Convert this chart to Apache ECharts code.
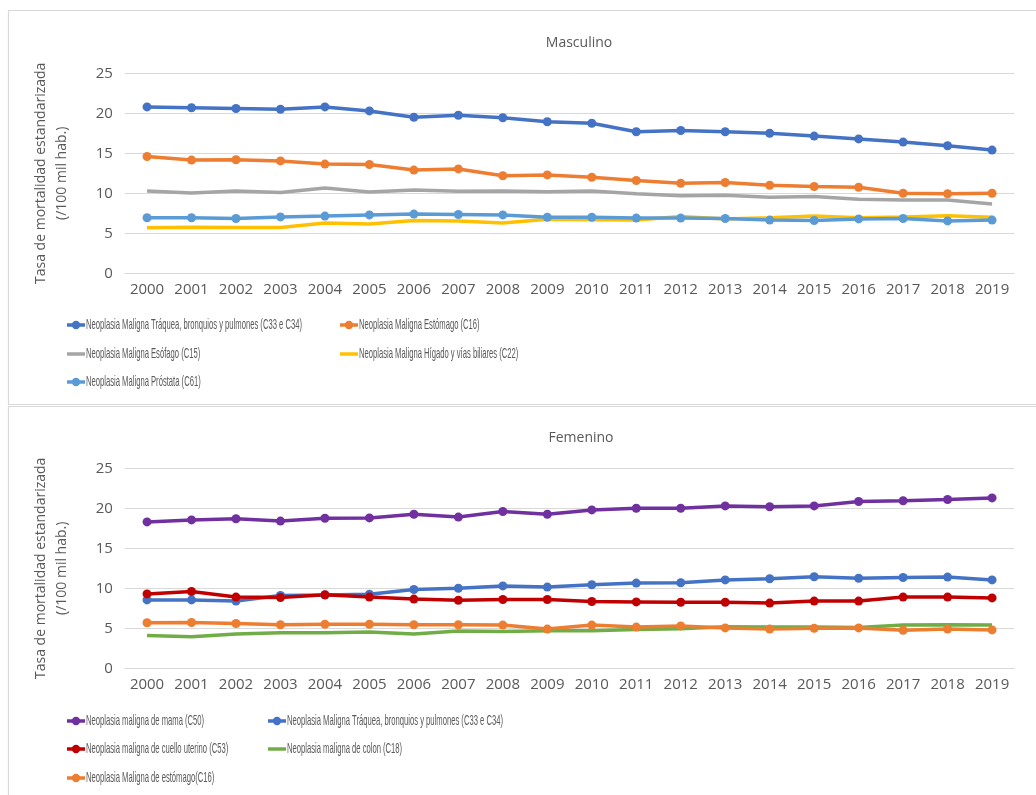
<!DOCTYPE html>
<html>
<head>
<meta charset="utf-8">
<script src="https://cdn.jsdelivr.net/npm/echarts@6/dist/echarts.min.js"></script>
<style>
  html, body { margin: 0; padding: 0; background: #fff; }
  #chart { width: 1036px; height: 795px; }
</style>
</head>
<body>
<div id="chart"></div>
<script>
// Years on the category axis
const years = ['2000','2001','2002','2003','2004','2005','2006','2007','2008','2009',
               '2010','2011','2012','2013','2014','2015','2016','2017','2018','2019'];
const yTicks = { min: 0, max: 25, step: 5 };

// Masculino: standardised mortality rate per 100k
const mTraquea   = [20.8,20.7,20.6,20.5,20.8,20.3,19.5,19.75,19.45,18.95,18.75,17.7,17.85,17.7,17.5,17.15,16.8,16.4,15.95,15.4];
const mEstomago  = [14.6,14.15,14.2,14.05,13.65,13.6,12.9,13.05,12.2,12.3,12.0,11.6,11.25,11.35,11.0,10.85,10.75,10.0,9.95,10.0];
const mEsofago   = [10.3,10.05,10.3,10.1,10.65,10.15,10.4,10.25,10.3,10.2,10.3,9.95,9.7,9.75,9.5,9.6,9.25,9.15,9.15,8.65];
const mHigado    = [5.7,5.75,5.72,5.72,6.3,6.15,6.6,6.55,6.3,6.75,6.7,6.65,7.1,6.8,6.95,7.15,6.95,7.05,7.2,7.0];
const mProstata  = [6.95,6.95,6.85,7.05,7.15,7.3,7.4,7.35,7.3,7.0,7.0,6.9,6.9,6.85,6.65,6.6,6.8,6.85,6.55,6.65];

// Femenino
const fMama      = [18.3,18.55,18.7,18.4,18.75,18.8,19.25,18.9,19.6,19.25,19.8,20.0,20.0,20.3,20.2,20.3,20.85,20.95,21.1,21.3];
const fTraquea   = [8.55,8.55,8.4,9.1,9.15,9.25,9.85,10.0,10.3,10.15,10.45,10.65,10.7,11.05,11.2,11.45,11.25,11.35,11.4,11.05];
const fCuello    = [9.3,9.6,8.9,8.85,9.2,8.9,8.65,8.5,8.6,8.6,8.35,8.3,8.25,8.25,8.15,8.4,8.4,8.9,8.9,8.8];
const fColon     = [4.1,3.95,4.3,4.45,4.45,4.55,4.3,4.65,4.6,4.7,4.7,4.85,4.95,5.2,5.15,5.15,5.1,5.4,5.45,5.4];
const fEstomago  = [5.7,5.72,5.6,5.45,5.5,5.5,5.45,5.45,5.4,4.9,5.4,5.15,5.3,5.05,4.9,5.0,5.05,4.75,4.9,4.8];

const maleSeries = [
  { name: 'Neoplasia Maligna Tráquea, bronquios y pulmones (C33 e C34)', data: mTraquea,  color: '#4472C4', marker: true },
  { name: 'Neoplasia Maligna Estómago (C16)',                            data: mEstomago, color: '#ED7D31', marker: true },
  { name: 'Neoplasia Maligna Esófago (C15)',                             data: mEsofago,  color: '#A5A5A5', marker: false },
  { name: 'Neoplasia Maligna Hígado y vías biliares (C22)',              data: mHigado,   color: '#FFC000', marker: false },
  { name: 'Neoplasia Maligna Próstata (C61)',                            data: mProstata, color: '#5B9BD5', marker: true }
];
const femaleSeries = [
  { name: 'Neoplasia maligna de mama (C50)',                             data: fMama,     color: '#7030A0', marker: true },
  { name: 'Neoplasia Maligna Tráquea, bronquios y pulmones (C33 e C34)', data: fTraquea,  color: '#4472C4', marker: true },
  { name: 'Neoplasia maligna de cuello uterino (C53)',                   data: fCuello,   color: '#C00000', marker: true },
  { name: 'Neoplasia maligna de colon (C18)',                            data: fColon,    color: '#70AD47', marker: false },
  { name: 'Neoplasia Maligna de estómago(C16)',                          data: fEstomago, color: '#ED7D31', marker: true }
];

const TEXT = '#595959';
const GRID_LINE = '#d9d9d9';
const AXIS_FONT = 'Open Sans';
const LEGEND_FONT = 'Liberation Sans';
const LEGEND_SIZE = 15;

// Condensed legend lettering: squeeze the sans face to the legend's tighter set width
function legendScale() {
  const ctx = document.createElement('canvas').getContext('2d');
  ctx.font = LEGEND_SIZE + 'px "' + LEGEND_FONT + '"';
  const w = ctx.measureText(maleSeries[0].name).width;
  return w > 0 ? 216 / w : 1;
}
const LS = legendScale();

const chart = echarts.init(document.getElementById('chart'), null, { renderer: 'canvas' });

const grids = [
  { left: 124.8, right: 21.7, top: 73.3, height: 200 },
  { left: 124.8, right: 21.7, top: 468.3, height: 200 }
];

function xAxisFor(gi) {
  return {
    type: 'category', gridIndex: gi, data: years, boundaryGap: true,
    axisLine: { lineStyle: { color: GRID_LINE, width: 1 } },
    axisTick: { show: false },
    axisLabel: { color: TEXT, fontFamily: AXIS_FONT, fontSize: 15, margin: 9, interval: 0, hideOverlap: false }
  };
}
function yAxisFor(gi) {
  return {
    type: 'value', gridIndex: gi, min: yTicks.min, max: yTicks.max, interval: yTicks.step,
    name: 'Tasa de mortalidad estandarizada\n(/100 mil hab.)',
    nameLocation: 'middle', nameGap: 52,
    nameTextStyle: { color: TEXT, fontFamily: AXIS_FONT, fontSize: 14, lineHeight: 21, align: 'center' },
    axisLine: { show: false }, axisTick: { show: false },
    axisLabel: { color: TEXT, fontFamily: AXIS_FONT, fontSize: 15, margin: 12 },
    splitLine: { lineStyle: { color: GRID_LINE, width: 1 } }
  };
}

function lineSeries(list, gi) {
  return list.map(s => ({
    type: 'line', name: s.name + (gi ? ' ' : ''), xAxisIndex: gi, yAxisIndex: gi,
    data: s.data, color: s.color,
    symbol: s.marker ? 'circle' : 'none', symbolSize: 9, showSymbol: s.marker,
    lineStyle: { width: 3.5, color: s.color },
    itemStyle: { color: s.color },
    emphasis: { disabled: true }, animation: false
  }));
}

// Legend entries: line swatch (with dot when the series has markers) plus label
function legendGraphics(list, positions) {
  const out = [];
  list.forEach((s, i) => {
    const p = positions[i];
    out.push({ type: 'line', silent: true,
      shape: { x1: p.x, y1: p.y, x2: p.x + 18, y2: p.y },
      style: { stroke: s.color, lineWidth: 3.5 } });
    if (s.marker) {
      out.push({ type: 'circle', silent: true,
        shape: { cx: p.x + 9, cy: p.y, r: 4.2 }, style: { fill: s.color } });
    }
    out.push({ type: 'text', silent: true, x: p.x + 19, y: p.y, scaleX: LS,
      style: { text: s.name, fill: TEXT, fontFamily: LEGEND_FONT, fontSize: LEGEND_SIZE,
               verticalAlign: 'middle', align: 'left' } });
  });
  return out;
}

const malePos = [ { x: 67, y: 325 }, { x: 340, y: 325 }, { x: 67, y: 354 }, { x: 340, y: 354 }, { x: 67, y: 382 } ];
const femalePos = [ { x: 67, y: 721 }, { x: 268, y: 721 }, { x: 67, y: 749 }, { x: 268, y: 749 }, { x: 67, y: 778 } ];

const frames = [
  { type: 'rect', silent: true, shape: { x: 8.5, y: 10.5, width: 1100, height: 394 },
    style: { fill: 'none', stroke: GRID_LINE, lineWidth: 1.2 } },
  { type: 'rect', silent: true, shape: { x: 8.5, y: 406.5, width: 1100, height: 500 },
    style: { fill: 'none', stroke: GRID_LINE, lineWidth: 1.2 } }
];

chart.setOption({
  backgroundColor: '#ffffff',
  animation: false,
  title: [
    { text: 'Masculino', left: 574, top: 31, textAlign: 'center',
      textStyle: { color: TEXT, fontFamily: AXIS_FONT, fontSize: 14, fontWeight: 'normal' } },
    { text: 'Femenino', left: 576, top: 426, textAlign: 'center',
      textStyle: { color: TEXT, fontFamily: AXIS_FONT, fontSize: 14, fontWeight: 'normal' } }
  ],
  grid: grids,
  xAxis: [xAxisFor(0), xAxisFor(1)],
  yAxis: [yAxisFor(0), yAxisFor(1)],
  series: lineSeries(maleSeries, 0).concat(lineSeries(femaleSeries, 1)),
  graphic: frames.concat(legendGraphics(maleSeries, malePos), legendGraphics(femaleSeries, femalePos))
});
</script>
</body>
</html>
